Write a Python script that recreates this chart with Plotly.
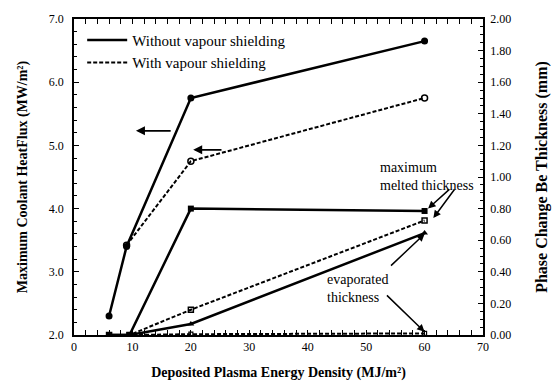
import plotly.graph_objects as go

# Deposited plasma energy density (MJ/m^2)
hf_without_x = [6, 9, 20, 60]
hf_without_y = [2.3, 3.4, 5.75, 6.65]       # MW/m^2, no vapour shielding
hf_with_x = [9, 20, 60]
hf_with_y = [3.42, 4.75, 5.75]              # MW/m^2, with vapour shielding

thk_x = [6, 9.5, 20, 60]
melt_without = [0.0, 0.0, 0.80, 0.785]      # mm
melt_with = [0.0, 0.0, 0.16, 0.725]         # mm
evap_without = [0.0, 0.0, 0.07, 0.645]      # mm
evap_with = [0.0, 0.0, 0.005, 0.01]         # mm

x_ticks = [0, 10, 20, 30, 40, 50, 60, 70]
left_ticks = [2.0, 3.0, 4.0, 5.0, 6.0, 7.0]
right_ticks = [0.0, 0.2, 0.4, 0.6, 0.8, 1.0, 1.2, 1.4, 1.6, 1.8, 2.0]

FONT = "Liberation Serif"
BLACK = "black"
DASH = "4px,2px"

fig = go.Figure()

# heat flux curves (left axis)
fig.add_trace(go.Scatter(x=hf_without_x, y=hf_without_y, mode="lines+markers",
                         line=dict(color=BLACK, width=2.5),
                         marker=dict(symbol="circle", size=7, color=BLACK),
                         showlegend=False))
fig.add_trace(go.Scatter(x=hf_with_x, y=hf_with_y, mode="lines+markers",
                         line=dict(color=BLACK, width=2, dash=DASH),
                         marker=dict(symbol="circle-open", size=6, color=BLACK, line=dict(width=1.5)),
                         showlegend=False))

# phase-change thickness curves (right axis)
fig.add_trace(go.Scatter(x=thk_x, y=melt_without, yaxis="y2", mode="lines+markers",
                         line=dict(color=BLACK, width=2.5),
                         marker=dict(symbol="square", size=6, color=BLACK),
                         showlegend=False))
fig.add_trace(go.Scatter(x=thk_x, y=melt_with, yaxis="y2", mode="lines+markers",
                         line=dict(color=BLACK, width=2, dash=DASH),
                         marker=dict(symbol="square-open", size=5, color=BLACK, line=dict(width=1.5)),
                         showlegend=False))
fig.add_trace(go.Scatter(x=thk_x, y=evap_without, yaxis="y2", mode="lines+markers",
                         line=dict(color=BLACK, width=2.5),
                         marker=dict(symbol="triangle-up", size=6, color=BLACK),
                         showlegend=False))
fig.add_trace(go.Scatter(x=thk_x, y=evap_with, yaxis="y2", mode="lines+markers",
                         line=dict(color=BLACK, width=2, dash=DASH),
                         marker=dict(symbol="square-open", size=4, color=BLACK, line=dict(width=1.2)),
                         showlegend=False))

# legend entries
fig.add_trace(go.Scatter(x=[None], y=[None], mode="lines", name="Without vapour shielding",
                         line=dict(color=BLACK, width=2.5)))
fig.add_trace(go.Scatter(x=[None], y=[None], mode="lines", name="With vapour shielding",
                         line=dict(color=BLACK, width=2, dash=DASH)))

ann_font = dict(family=FONT, size=14, color=BLACK)
annotations = [
    # arrows showing which curves belong to the left axis
    dict(x=10.6, y=5.23, ax=16.8, ay=5.23, xref="x", yref="y", axref="x", ayref="y",
         text="", showarrow=True, arrowhead=2, arrowsize=1, arrowwidth=1.8, arrowcolor=BLACK),
    dict(x=20.4, y=4.93, ax=25.5, ay=4.93, xref="x", yref="y", axref="x", ayref="y",
         text="", showarrow=True, arrowhead=2, arrowsize=1, arrowwidth=1.8, arrowcolor=BLACK),
    # melted thickness labels
    dict(x=52.0, y=1.12, xref="x", yref="y2", text="maximum<br>melted thickness",
         showarrow=False, xanchor="left", yanchor="top", align="left", font=ann_font),
    dict(x=60.6, y=0.80, ax=64.5, ay=0.93, xref="x", yref="y2", axref="x", ayref="y2",
         text="", showarrow=True, arrowhead=2, arrowsize=1, arrowwidth=1.5, arrowcolor=BLACK),
    dict(x=61.5, y=0.74, ax=65.3, ay=0.93, xref="x", yref="y2", axref="x", ayref="y2",
         text="", showarrow=True, arrowhead=2, arrowsize=1, arrowwidth=1.5, arrowcolor=BLACK),
    # evaporated thickness labels
    dict(x=43.0, y=0.41, xref="x", yref="y2", text="evaporated<br>thickness",
         showarrow=False, xanchor="left", yanchor="top", align="left", font=ann_font),
    dict(x=60, y=0.64, ax=54, ay=0.43, xref="x", yref="y2", axref="x", ayref="y2",
         text="", showarrow=True, arrowhead=2, arrowsize=1, arrowwidth=1.5, arrowcolor=BLACK),
    dict(x=60, y=0.02, ax=53.3, ay=0.26, xref="x", yref="y2", axref="x", ayref="y2",
         text="", showarrow=True, arrowhead=2, arrowsize=1, arrowwidth=1.5, arrowcolor=BLACK),
]

tick_font = dict(family=FONT, size=12, color=BLACK)
title_font = dict(family=FONT, size=14, color=BLACK)

fig.update_layout(
    width=554, height=389,
    margin=dict(l=74, r=71, t=19, b=54),
    paper_bgcolor="white", plot_bgcolor="white",
    font=dict(family=FONT, color=BLACK),
    annotations=annotations,
    showlegend=True,
    legend=dict(x=0.02, y=0.985, xanchor="left", yanchor="top",
                bgcolor="rgba(0,0,0,0)", font=dict(family=FONT, size=15, color=BLACK),
                itemwidth=40, tracegroupgap=2),
    xaxis=dict(range=[0, 70], tickvals=x_ticks, ticks="inside", ticklen=5,
               tickcolor=BLACK, tickwidth=1, showgrid=False, zeroline=False,
               showline=True, linecolor=BLACK, linewidth=1.5, mirror="allticks",
               tickfont=tick_font, automargin=False,
               minor=dict(dtick=2, ticks="inside", ticklen=3, tickcolor=BLACK),
               title=dict(text="<b>Deposited Plasma Energy Density (MJ/m²)</b>",
                          font=title_font, standoff=14)),
    yaxis=dict(range=[2, 7], tickvals=left_ticks, ticktext=[f"{v:.1f}" for v in left_ticks],
               ticks="inside", ticklen=5, tickcolor=BLACK, showgrid=False, zeroline=False,
               showline=True, linecolor=BLACK, linewidth=1.5, tickfont=tick_font,
               ticklabelstandoff=6, automargin=False,
               minor=dict(dtick=0.2, ticks="inside", ticklen=3, tickcolor=BLACK),
               title=dict(text="<b>Maximum Coolant HeatFlux (MW/m²)</b>",
                          font=title_font, standoff=18)),
    yaxis2=dict(range=[0, 2], tickvals=right_ticks, ticktext=[f"{v:.2f}" for v in right_ticks],
                overlaying="y", side="right", ticks="inside", ticklen=5, tickcolor=BLACK,
                showgrid=False, zeroline=False, showline=True, linecolor=BLACK, linewidth=1.5,
                tickfont=tick_font, ticklabelstandoff=3, automargin=False,
                minor=dict(dtick=0.05, ticks="inside", ticklen=3, tickcolor=BLACK),
                title=dict(text="<b>Phase Change Be Thickness (mm)</b>",
                           font=dict(family=FONT, size=16, color=BLACK), standoff=26)),
)

fig.write_html("out.html")
